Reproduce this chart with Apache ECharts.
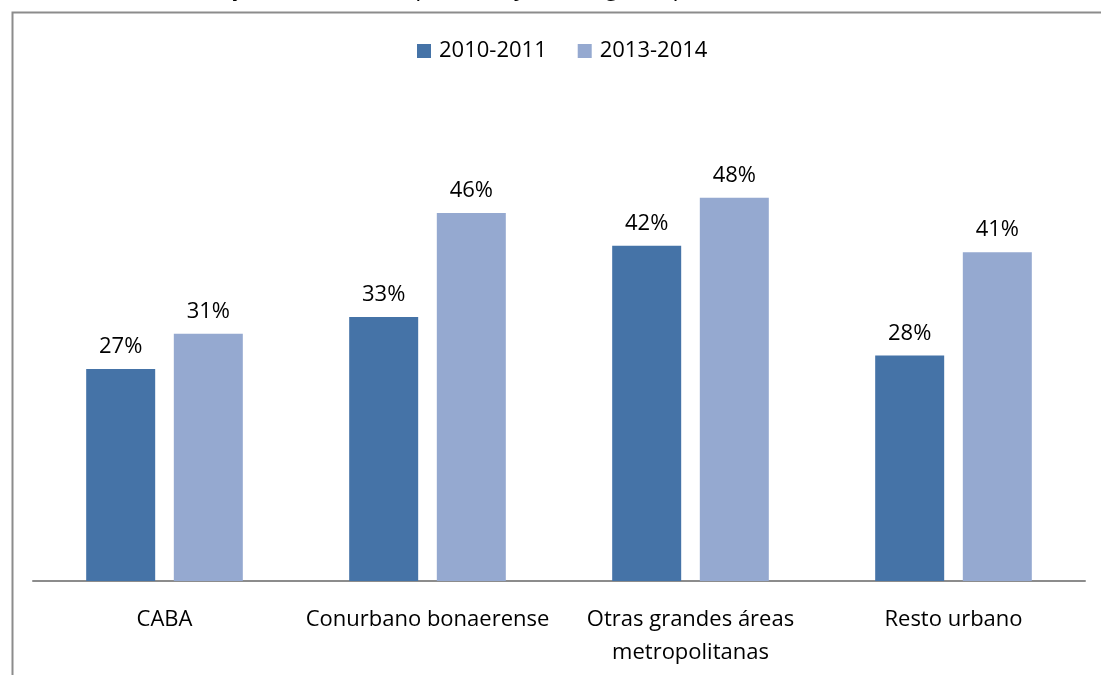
<!DOCTYPE html>
<html>
<head>
<meta charset="utf-8">
<script src="https://cdn.jsdelivr.net/npm/echarts@6/dist/echarts.min.js"></script>
<style>html,body{margin:0;padding:0;background:#fff;}#c{width:1101px;height:675px;}</style>
</head>
<body>
<div id="c"></div>
<script>
const categories = ['CABA', 'Conurbano bonaerense', 'Otras grandes áreas\nmetropolitanas', 'Resto urbano'];
const seriesNames = ['2010-2011', '2013-2014'];
const values2010 = [26.5, 33.0, 41.9, 28.2];
const values2013 = [30.9, 46.0, 47.9, 41.1];
const titleText = 'Años 2010-2011 y 2013-2014. En porcentaje de hogares por área';

const font = 'Open Sans';
const chart = echarts.init(document.getElementById('c'));
const label = {
  show: true, position: 'top', distance: 11,
  fontFamily: font, fontSize: 22, color: '#000',
  formatter: p => Math.round(p.value) + '%'
};
chart.setOption({
  animation: false,
  textStyle: { fontFamily: font },
  graphic: [
    { type: 'rect', left: 10, top: 10, shape: { width: 1200, height: 800 },
      style: { fill: 'none', stroke: '#8c8c8c', lineWidth: 2 }, silent: true },
    { type: 'text', left: 47, top: -24,
      style: { text: titleText, fontFamily: font, fontSize: 24, fill: '#000' } }
  ],
  legend: {
    top: 35, left: 412,
    itemWidth: 14, itemHeight: 14, itemGap: 31, icon: 'rect',
    textStyle: { fontFamily: font, fontSize: 22, color: '#000', padding: [0, 0, 0, 3] },
    data: seriesNames
  },
  grid: { left: 33, right: 16, top: 101, bottom: 94, containLabel: false },
  xAxis: {
    type: 'category', data: categories,
    axisLine: { lineStyle: { color: '#8c8c8c', width: 2 } },
    axisTick: { show: false },
    axisLabel: { interval: 0, margin: 22, fontFamily: font, fontSize: 22, lineHeight: 33, color: '#000' }
  },
  yAxis: { type: 'value', min: 0, max: 60, show: false, splitLine: { show: false } },
  series: [
    { name: seriesNames[0], type: 'bar', data: values2010, barWidth: 69, barGap: '27%',
      itemStyle: { color: '#4573A7' }, label: label },
    { name: seriesNames[1], type: 'bar', data: values2013, barWidth: 69, barGap: '27%',
      itemStyle: { color: '#95A9D0' }, label: label }
  ]
});
</script>
</body>
</html>
